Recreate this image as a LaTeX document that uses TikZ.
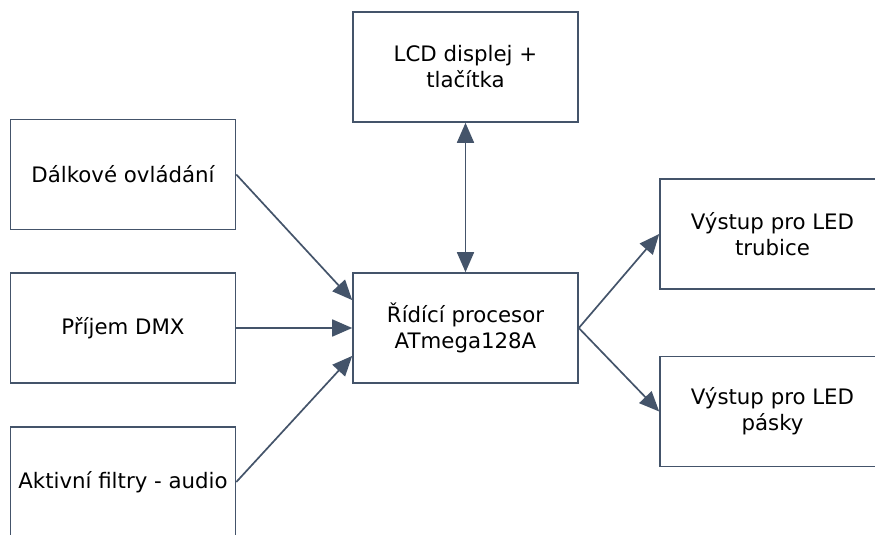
\documentclass[tikz,border=0pt]{standalone}
\usepackage{fontspec}
\setmainfont{DejaVu Sans}
\usepackage{xcolor}
\usetikzlibrary{arrows.meta,positioning,calc}
\definecolor{slate}{HTML}{44546A}

\begin{document}
\begin{tikzpicture}[
    x=1pt, y=-1pt,
    >={Triangle[length=20pt,width=17pt]},
    block/.style={draw=slate, line width=1.6pt, fill=white, minimum width=225pt, minimum height=110pt, align=center, inner sep=0pt, font=\fontsize{21.3}{26}\selectfont},
    link/.style={->, draw=slate, fill=slate, line width=1.7pt}
]
\useasboundingbox (0,0) rectangle (875,535);
\begin{scope}
\clip (0,0) rectangle (875,535);
\node[block] (lcd)    at (465.5,67)  {LCD displej +\\tlačítka};
\node[block] (remote) at (123,174.5) {Dálkové ovládání};
\node[block] (dmx)    at (123,328)   {Příjem DMX};
\node[block] (audio)  at (123,482)   {Aktivní filtry - audio};
\node[block] (cpu)    at (465.5,328) {Řídící procesor\\ATmega128A};
\node[block] (tube)   at (772.5,234) {Výstup pro LED\\trubice};
\node[block] (strip)  at (772.5,411.5) {Výstup pro LED\\pásky};
\end{scope}

\draw[link] (remote.east) -- ($(cpu.north west)!0.25!(cpu.south west)$);
\draw[link] (dmx.east) -- (cpu.west);
\draw[link] (audio.east) -- ($(cpu.north west)!0.75!(cpu.south west)$);
\draw[link, <->] (lcd.south) -- (cpu.north);
\draw[link] (cpu.east) -- (tube.west);
\draw[link] (cpu.east) -- (strip.west);
\end{tikzpicture}
\end{document}
